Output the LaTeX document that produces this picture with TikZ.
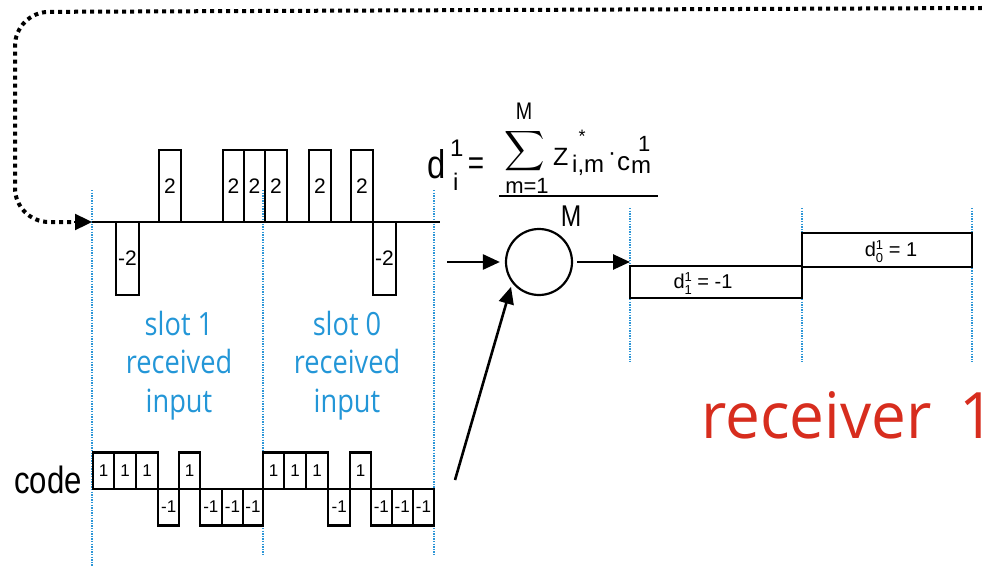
\documentclass[tikz,border=0pt]{standalone}
\usepackage{fontspec}
\usepackage{graphicx}
\setmainfont{Liberation Sans}
\newfontfamily\libn[FakeStretch=0.82]{Liberation Sans}
\newfontfamily\opn[FakeStretch=0.85]{Open Sans}
\newfontfamily\opr[FakeStretch=0.97]{Open Sans}
\usetikzlibrary{arrows.meta}
\definecolor{dotblue}{RGB}{45,150,215}
\definecolor{txtblue}{RGB}{35,150,215}
\definecolor{recred}{RGB}{215,45,30}
\newcommand\fs[1]{\fontsize{#1}{#1}\selectfont}
\newcommand\dsupsub[2]{\rlap{\raisebox{7pt}{\fs{13}#1}}\raisebox{-6pt}{\fs{13}#2}}
\begin{document}
\begin{tikzpicture}[x=1pt,y=-1pt,
  sig/.style={draw,line width=2.1pt},
  barlab/.style={inner sep=0pt,font=\fs{21}},
  chiplab/.style={inner sep=0pt,font=\fs{17}},
  slotline/.style={draw=dotblue,line width=2.6pt,dash pattern=on 1.3pt off 1.3pt},
  loopline/.style={draw=black,line width=4pt,dash pattern=on 4pt off 4pt},
  arr/.style={line width=2.6pt,-{Triangle[length=17pt,width=15pt]}},
  bluetxt/.style={text=txtblue,inner sep=0pt,anchor=base,font=\opn\fs{32}},
  flab/.style={inner sep=0pt,anchor=base west}]
\useasboundingbox (0,0) rectangle (982,567);
% slot separators
\draw[slotline] (92,190) -- (92,567);
\draw[slotline] (263,190) -- (263,555);
\draw[slotline] (434,190) -- (434,555);
\draw[slotline] (630,208) -- (630,362);
\draw[slotline] (802,208) -- (802,362);
\draw[slotline] (972,208) -- (972,362);
% received signal
\coordinate (sigstart) at (92,222);
\coordinate (loopstart) at (982,8);
\draw[sig] (sigstart) -- (440,222);
\foreach \a/\b/\v [count=\i] in {116/139/-2,159/181/2,223/244/2,244/265/2,265/287/2,309/331/2,351/373/2,373/396/-2}{
  \pgfmathsetmacro\yy{\v>0 ? 150 : 295}
  \draw[sig] (\a,222) rectangle (\b,\yy);
  \node[barlab] (bar\i) at ({(\a+\b)/2},{222-18*\v}) {\ifnum\v>0 2\else -2\fi};
}
% feedback loop
\draw[loopline,rounded corners=34pt] (loopstart) -- (15,12) -- (15,222) -- (76,222);
\draw[line width=2.4pt,-{Triangle[length=17pt,width=16pt]}] (74,222) -- (sigstart);
% code
\node[flab,font=\libn\fs{38}] (codelab) at (14,493) {code};
\foreach \a/\b/\v [count=\i] in {92.7/114.3/1,114.3/136/1,136/158.3/1,158.3/179/-1,179/200/1,200/221.7/-1,221.7/243.3/-1,243.3/262.7/-1,
  262.7/284.3/1,284.3/306/1,306/328.3/1,328.3/350/-1,350/371/1,371/391.7/-1,391.7/412.7/-1,412.7/434.3/-1}{
  \pgfmathsetmacro\yy{489-36.5*\v}
  \draw[sig] (\a,489) rectangle (\b,\yy);
  \node[chiplab] (chip\i) at ({(\a+\b)/2},{489-18*\v}) {\ifnum\v>0 1\else -1\fi};
}
% slot labels
\node[bluetxt] (s1a) at (179,335) {slot 1};
\node[bluetxt] (s1b) at (179,373) {received};
\node[bluetxt] (s1c) at (179,412) {input};
\node[bluetxt] (s0a) at (347,335) {slot 0};
\node[bluetxt] (s0b) at (347,373) {received};
\node[bluetxt] (s0c) at (347,412) {input};
% correlator
\node[draw,circle,line width=2.2pt,minimum size=66pt,inner sep=0pt] (sum) at (539,262) {};
\coordinate (inA) at (447,262);
\coordinate (inB) at (455,480);
\coordinate (outA) at (630,262);
\draw[arr,shorten >=5pt] (inA) -- (sum.west);
\draw[arr,shorten >=4pt] (inB) -- (sum.218);
\draw[arr] (sum.east) ++(4pt,0) coordinate (sumout) (sumout) -- (outA);
% formula
\node[flab,font=\libn\fs{40}] (fd) at (427,178) {d};
\node[flab,font=\fs{24}] (fdsup) at (450,157) {1};
\node[flab,font=\fs{24}] (fdsub) at (453,190) {i};
\node[inner sep=0pt,font=\libn\fs{34}] (feq) at (476,166) {=};
\node[inner sep=0pt] (fsum) at (525,151) {\scalebox{2.8}{$\displaystyle\sum$}};
\node[inner sep=0pt,anchor=base,font=\libn\fs{24}] (fsumtop) at (524,120) {M};
\node[inner sep=0pt,anchor=base,font=\fs{22}] (fsumbot) at (527,193) {m=1};
\node[flab,font=\fs{25}] (fz) at (553,165) {Z};
\node[inner sep=0pt,font=\fs{18}] (fstar) at (582,136) {*};
\node[flab,font=\fs{24}] (fzsub) at (572,172) {i,m};
\node[inner sep=0pt,font=\fs{24}] (fdot) at (612,157) {·};
\node[flab,font=\fs{26}] (fc) at (617,170) {c};
\node[flab,font=\fs{22}] (fcsup) at (638,151) {1};
\node[flab,font=\fs{24}] (fcsub) at (631,173) {m};
\draw[line width=2pt] (499,196) -- (658,196);
\node[inner sep=0pt,font=\libn\fs{30}] (fden) at (571,216) {M};
% decoded data
\draw[sig] (630,266) rectangle (802,298);
\draw[sig] (802,233) rectangle (972,267);
\node[inner sep=0pt,font=\fs{20}] (d1) at (703,284) {d\dsupsub{1}{1} = -1};
\node[inner sep=0pt,font=\fs{20}] (d0) at (891,252) {d\dsupsub{1}{0} = 1};
% receiver label
\node[inner sep=0pt,anchor=base west,text=recred,font=\opr\fs{64}] (rcv) at (701,438) {receiver\kern12pt\ 1};
\end{tikzpicture}
\end{document}
